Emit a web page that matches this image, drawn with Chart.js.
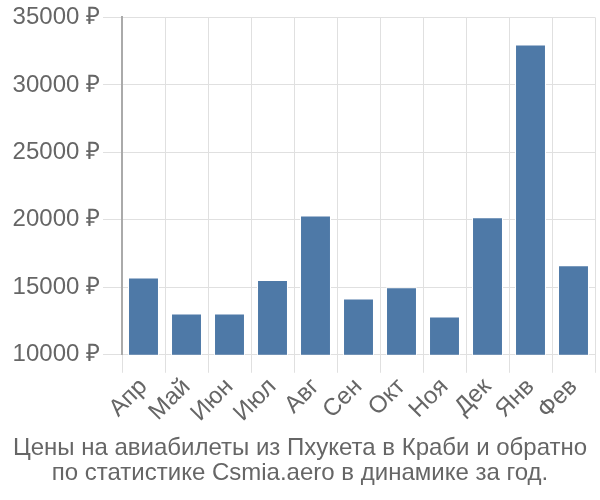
<!DOCTYPE html>
<html lang="ru">
<head>
<meta charset="utf-8">
<title>Цены на авиабилеты</title>
<script src="https://cdn.jsdelivr.net/npm/chart.js@4.4.0/dist/chart.umd.min.js"></script>
<style>
  body { margin: 0; background: #fff; }
  .wrap { width: 600px; height: 500px; }
</style>
</head>
<body>
<div class="wrap"><canvas id="chart"></canvas></div>
<script>
// данные
const months = ['Апр', 'Май', 'Июн', 'Июл', 'Авг', 'Сен', 'Окт', 'Ноя', 'Дек', 'Янв', 'Фев'];
const prices = [15730, 13050, 13050, 15540, 20320, 14170, 15000, 12830, 20200, 33000, 16640];
const titleLines = ['Цены на авиабилеты из Пхукета в Краби и обратно', 'по статистике Csmia.aero в динамике за год.'];

Chart.defaults.font.family = '"Liberation Sans", Arial, sans-serif';
Chart.defaults.color = '#666';

new Chart(document.getElementById('chart'), {
  type: 'bar',
  data: {
    labels: months,
    datasets: [{
      data: prices,
      backgroundColor: '#4e79a7',
      borderColor: '#ffffff',
      borderWidth: 1
    }]
  },
  options: {
    responsive: true,
    maintainAspectRatio: false,
    animation: false,
    layout: { padding: { left: 5, right: 5, top: 1, bottom: 14 } },
    plugins: {
      legend: { display: false },
      tooltip: { enabled: false },
      title: {
        display: true,
        position: 'bottom',
        text: titleLines,
        font: { size: 24, weight: 'normal', lineHeight: 1.05 },
        color: '#666',
        padding: { top: 8, bottom: 0 }
      }
    },
    scales: {
      x: {
        grid: { color: '#e0e0e0', tickLength: 18 },
        border: { color: '#e0e0e0' },
        ticks: { font: { size: 24 }, maxRotation: 45, minRotation: 45, autoSkip: false, color: '#666', padding: 0 }
      },
      y: {
        min: 10000,
        max: 35000,
        afterFit: s => { s.width = 117; },
        grid: { color: '#e0e0e0', tickLength: 19 },
        border: { color: '#aaa', width: 2 },
        ticks: {
          stepSize: 5000,
          font: { size: 24 },
          color: '#666',
          padding: 3,
          callback: v => v + ' ₽'
        }
      }
    }
  }
});
</script>
</body>
</html>
